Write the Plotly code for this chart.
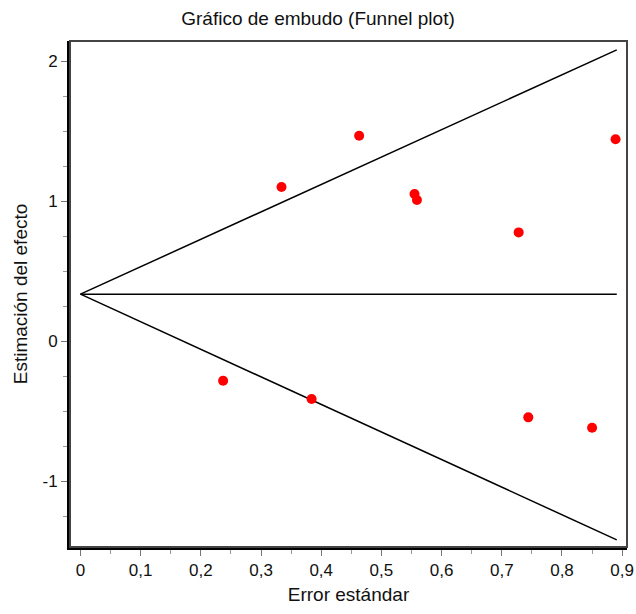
import plotly.graph_objects as go

# Data
standard_error = [0.237, 0.334, 0.384, 0.463, 0.555, 0.559, 0.728, 0.744, 0.850, 0.889]
effect_estimate = [-0.284, 1.10, -0.414, 1.466, 1.05, 1.007, 0.776, -0.545, -0.619, 1.441]

funnel_se = [0.0, 0.891]
funnel_center = [0.335, 0.335]
funnel_upper = [0.335, 2.08]
funnel_lower = [0.335, -1.42]

x_tick_vals = [0, 0.1, 0.2, 0.3, 0.4, 0.5, 0.6, 0.7, 0.8, 0.9]
x_tick_text = ["0", "0,1", "0,2", "0,3", "0,4", "0,5", "0,6", "0,7", "0,8", "0,9"]
y_tick_vals = [-1, 0, 1, 2]
y_tick_text = ["-1", "0", "1", "2"]

FONT = "Arial, Liberation Sans, sans-serif"
line_style = dict(color="black", width=1.5)

W, H = 636, 614

fig = go.Figure()
for ys in (funnel_upper, funnel_center, funnel_lower):
    fig.add_trace(go.Scatter(x=funnel_se, y=ys, mode="lines", line=line_style,
                             hoverinfo="skip", showlegend=False))
fig.add_trace(go.Scatter(x=standard_error, y=effect_estimate, mode="markers",
                         marker=dict(color="#ff0000", size=10, line=dict(width=0)),
                         showlegend=False))

fig.update_layout(
    width=W, height=H,
    margin=dict(l=70, r=9, t=41, b=67, autoexpand=False),
    paper_bgcolor="white", plot_bgcolor="white",
    font=dict(family=FONT, size=17, color="#111"),
    title=dict(text="Gráfico de embudo (Funnel plot)", x=318 / W, xanchor="center",
               y=1 - 18 / H, yanchor="middle", font=dict(size=19, family=FONT, color="#111")),
    showlegend=False,
    shapes=[dict(type="rect", xref="paper", yref="paper", x0=0, x1=1, y0=0, y1=1,
                 line=dict(color="#444", width=2), layer="above")],
)

fig.update_xaxes(
    range=[-0.0174, 0.908], showgrid=False, zeroline=False, automargin=False,
    showline=True, linecolor="black", linewidth=3, ticklabeloverflow="allow",
    tickmode="array", tickvals=x_tick_vals, ticktext=x_tick_text,
    ticks="outside", ticklen=6, tickwidth=1, tickcolor="#777",
    minor=dict(dtick=0.05, tick0=0, ticks="outside", ticklen=4, tickcolor="#999", tickwidth=1, showgrid=False),
    title=dict(text="Error estándar", font=dict(size=19, family=FONT, color="#111"), standoff=9),
)
fig.update_yaxes(
    range=[-1.471, 2.143], showgrid=False, zeroline=False, automargin=False,
    showline=True, linecolor="black", linewidth=3,
    tickmode="array", tickvals=y_tick_vals, ticktext=y_tick_text,
    ticks="outside", ticklen=6, tickwidth=1, tickcolor="#777",
    minor=dict(dtick=0.25, tick0=0, ticks="outside", ticklen=4, tickcolor="#999", tickwidth=1, showgrid=False),
    title=dict(text="Estimación del efecto", font=dict(size=19, family=FONT, color="#111"), standoff=10),
)

fig.write_html("out.html", config={"displayModeBar": False},
               post_script="document.body.style.margin='0';document.body.style.overflow='hidden';")
